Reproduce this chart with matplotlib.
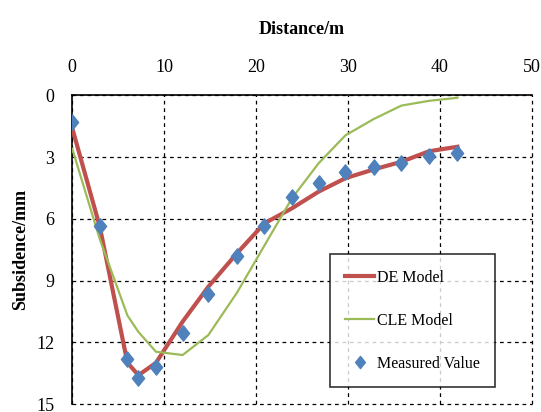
import matplotlib
matplotlib.use('Agg')
import matplotlib.pyplot as plt
from matplotlib.path import Path

plt.rcParams['font.family'] = ['Liberation Serif', 'DejaVu Serif']

# Data
distance = [0, 3, 6, 7.2, 9.1, 12, 14.8, 17.9, 20.9, 23.9, 26.8, 29.7, 32.8, 35.8, 38.8, 41.9]
measured = [1.31, 6.34, 12.80, 13.75, 13.19, 11.56, 9.67, 7.81, 6.34, 4.96, 4.28, 3.74, 3.47, 3.30, 2.95, 2.82]
de_model = [1.6, 6.4, 13.0, 13.6, 13.0, 11.0, 9.3, 7.68, 6.22, 5.49, 4.68, 4.03, 3.60, 3.23, 2.72, 2.50]
cle_model = [2.6, 7.0, 10.7, 11.5, 12.46, 12.62, 11.65, 9.6, 7.3, 5.0, 3.3, 1.95, 1.15, 0.5, 0.27, 0.12]

xticks = [0, 10, 20, 30, 40, 50]
yticks = [0, 3, 6, 9, 12, 15]

# slightly narrow diamond, like the squeezed original
diamond = Path([(0, 1), (0.8, 0), (0, -1), (-0.8, 0), (0, 1)],
               [Path.MOVETO, Path.LINETO, Path.LINETO, Path.LINETO, Path.CLOSEPOLY])

fig = plt.figure(figsize=(5.41, 4.12), dpi=100)
ax = fig.add_axes([0.1336, 0.0194, 0.8497, 0.7493])

ax.plot(distance, de_model, color='#C0504D', lw=3.0, label='DE Model', zorder=3)
ax.plot(distance, cle_model, color='#9BBB59', lw=1.6, label='CLE Model', zorder=3)
ax.plot(distance, measured, linestyle='none', marker=diamond, markersize=11,
        color='#4F81BD', label='Measured Value', zorder=4)

ax.set_xlim(0, 50)
ax.set_ylim(15, 0)
ax.set_xticks(xticks)
ax.set_yticks(yticks)
ax.xaxis.tick_top()
ax.xaxis.set_label_position('top')
ax.tick_params(axis='x', length=0, pad=14, labelsize=13)
ax.tick_params(axis='y', length=0, pad=13, labelsize=13)

ax.set_xlabel('Distance/m', fontsize=13, fontweight='bold', labelpad=18)
ax.set_ylabel('Subsidence/mm', fontsize=13, fontweight='bold', labelpad=5)

for side in ['right', 'bottom']:
    ax.spines[side].set_visible(False)
for side in ['top', 'left']:
    ax.spines[side].set_linewidth(1.2)
    ax.spines[side].set_color('black')

ax.grid(True, color='black', linestyle=(0, (3, 3)), linewidth=0.9)
for gl in ax.get_xgridlines() + ax.get_ygridlines():
    gl.set_clip_on(False)

leg = ax.legend(loc='center', bbox_to_anchor=(0.74, 0.27), fontsize=11.5,
                frameon=True, fancybox=False, edgecolor='black',
                handlelength=1.8, labelspacing=1.7, borderpad=0.95,
                handletextpad=0.15, borderaxespad=0, markerscale=0.8)
leg.get_frame().set_linewidth(1.2)
leg.set_zorder(5)

fig.savefig('out.png', dpi=100)
